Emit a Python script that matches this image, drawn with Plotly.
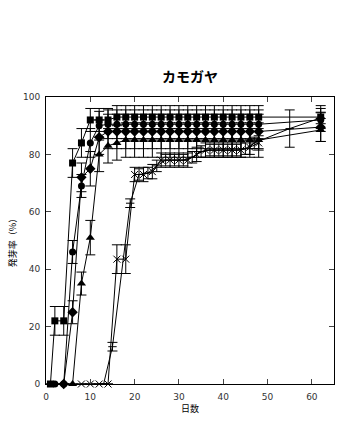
import plotly.graph_objects as go

# ---- data ----
grid = [10, 12, 14, 16, 18, 20, 22, 24, 26, 28, 30, 32, 34, 36, 38, 40, 42, 44, 46, 48]

sq_days = [1, 2, 4, 6, 8] + grid + [62]
sq_vals = [0, 22, 22, 77, 84, 92, 92, 92, 93, 93, 93, 93, 93, 93, 93, 93, 93, 93, 93, 93, 93, 93, 93, 93, 93, 93]
sq_err = [0, 5, 5, 5, 5] + [4] * 20 + [4]

ci_days = [2, 4, 6, 8] + grid + [62]
ci_vals = [0, 0, 46, 69, 84, 90, 90.5, 90.5, 90.5, 90.5, 90.5, 90.5, 90.5, 90.5, 90.5, 90.5, 90.5, 90.5, 90.5, 90.5, 90.5, 90.5, 90.5, 90.5, 92]
ci_err = [0, 0, 4, 4] + [5] * 20 + [4]

di_days = [4, 6, 8] + grid + [62]
di_vals = [0, 25, 72, 75, 86, 88, 88, 88, 88, 88, 88, 88, 88, 88, 88, 88, 88, 88, 88, 88, 88, 88, 88, 89.5]
di_err = [0, 4, 5] + [6] * 20 + [5]

tr_days = [6, 8] + grid + [62]
tr_vals = [0, 35, 51, 80, 83, 84, 85, 85, 85, 85, 85, 85, 85, 85, 85, 85, 85, 85, 85, 85, 85, 85, 88.5]
tr_err = [0, 4] + [6] * 20 + [4]

x_days = [8, 10, 12, 14, 16, 18, 20, 22, 24, 26, 28, 30, 32, 34, 36, 38, 40, 42, 44, 46, 48]
x_vals = [0, 0, 0, 0, 43.5, 43.5, 73, 73, 74, 78, 78, 78, 78, 80, 81.5, 81.5, 81.5, 81.5, 81.5, 82.5, 84]
x_err = [0, 0, 0, 0, 5, 5, 2.5, 2.5, 2.5, 2.5, 2.5, 2.5, 2.5, 2.5, 2.5, 2.5, 2.5, 2.5, 2.5, 2.5, 2.5]

f_days = [13, 15, 19, 21, 23, 25, 27, 29, 31, 33, 35, 37, 39, 41, 43, 45, 47, 55, 62]
f_vals = [0, 13, 63, 73, 73.5, 76, 78, 78, 78, 79, 81, 81.5, 81.5, 81.5, 81.5, 82, 84, 89, 92.7]
f_err = [0, 1.5, 1.5, 2, 2, 2, 2, 2, 2, 2, 2, 2, 2, 2, 2, 2, 2, 6.5, 2]

x_ticks = [0, 10, 20, 30, 40, 50, 60]
y_ticks = [0, 20, 40, 60, 80, 100]

fig = go.Figure()

def add(days, vals, errs, symbol, size, mlw=0):
    fig.add_trace(go.Scatter(
        x=days, y=vals, mode="lines+markers",
        line=dict(color="black", width=1),
        marker=dict(symbol=symbol, size=size, color="black",
                    line=dict(color="black", width=mlw)),
        error_y=dict(type="data", array=errs, visible=True,
                     color="black", thickness=1, width=5),
        showlegend=False, cliponaxis=False,
    ))

add(f_days, f_vals, f_err, "line-ew", 6, mlw=1)
add(x_days, x_vals, x_err, "x-thin-open", 7, mlw=1)
add(tr_days, tr_vals, tr_err, "triangle-up", 8)
add(di_days, di_vals, di_err, "diamond", 8)
add(ci_days, ci_vals, ci_err, "circle", 7)
add(sq_days, sq_vals, sq_err, "square", 7)

tickfont = dict(family="DejaVu Sans", size=9, color="#333333")
fig.update_layout(
    width=355, height=426,
    margin=dict(l=46, r=21, t=97, b=42),
    paper_bgcolor="white", plot_bgcolor="white",
    title=dict(text="<b>カモガヤ</b>", x=0.5, xref="paper",
               y=1 - 77 / 426, yref="container", yanchor="middle", xanchor="center",
               font=dict(family="Noto Sans CJK JP", size=14, color="black")),
    xaxis=dict(range=[0, 65], tickvals=x_ticks, ticks="inside", ticklen=5,
               ticklabelstandoff=4,
               showline=True, linecolor="black", linewidth=1, mirror="ticks",
               showgrid=False, zeroline=False, tickfont=tickfont,
               title=dict(text="日数", standoff=0,
                          font=dict(family="Noto Sans CJK JP", size=9, color="black"))),
    yaxis=dict(range=[0, 100], tickvals=y_ticks, ticks="inside", ticklen=5,
               ticklabelstandoff=3,
               showline=True, linecolor="black", linewidth=1, mirror="ticks",
               showgrid=False, zeroline=False, tickfont=tickfont,
               title=dict(text="発芽率（%）", standoff=4,
                          font=dict(family="Noto Sans CJK JP", size=9, color="black"))),
)

fig.write_html("out.html")
